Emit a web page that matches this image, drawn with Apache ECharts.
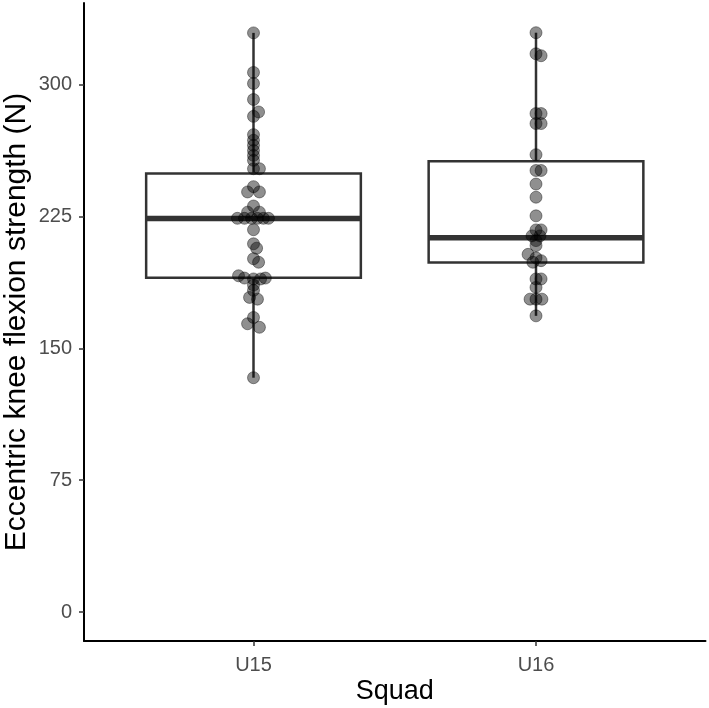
<!DOCTYPE html>
<html>
<head>
<meta charset="utf-8">
<script src="https://cdn.jsdelivr.net/npm/echarts@6/dist/echarts.min.js"></script>
<style>
  html, body { margin: 0; padding: 0; background: #fff; }
  #chart { width: 709px; height: 708px; }
</style>
</head>
<body>
<div id="chart"></div>
<script>
const squads = ['U15', 'U16']
const yTicks = [0, 75, 150, 225, 300]

// box stats per squad: [lower whisker, Q1, median, Q3, upper whisker]
const boxU15 = [133.3, 190.2, 223.9, 249.5, 329.5]
const boxU16 = [168.5, 198.8, 213.0, 256.4, 329.6]

// individual players (N) and the beeswarm offset (in category units)
const u15Values = [329.5, 307, 300.7, 291.6, 284.5, 282, 271.6, 268.4, 265.5, 262.6, 259.8, 257,
  252.2, 252.2, 242, 239, 239, 231, 227.5, 227.5, 224, 224, 224, 224, 224, 224, 217.5, 209.5,
  207, 201, 199, 191.3, 190, 189.5, 189.5, 190, 186, 183, 179, 178, 167.6, 164, 162, 133.3]
const u15Offsets = [0, 0, 0, 0, 0.018, 0, 0, 0, 0, 0, 0, 0,
  0, 0.021, 0, -0.021, 0.021, 0, -0.021, 0.021, -0.057, -0.032, -0.007, 0.014, 0.035, 0.053, 0, 0,
  0.011, 0, 0.018, -0.053, -0.032, 0, 0.025, 0.042, 0, 0, -0.014, 0.014, 0, -0.021, 0.021, 0]

const u16Values = [329.6, 317.6, 316.5, 283.6, 283.6, 277.9, 277.9, 260.2, 251.2, 251.2, 243.5, 236,
  225.4, 217.4, 217.4, 214, 214, 211.3, 208.5, 203.5, 201.5, 199.9, 199, 189.5, 189.5, 184.7,
  178, 178, 178, 168.5]
const u16Offsets = [0, 0, 0.018, 0, 0.018, 0, 0.018, 0, 0, 0.018, 0, 0,
  0, 0, 0.018, -0.014, 0.014, 0, 0, -0.028, 0, 0.018, -0.011, 0, 0.018, 0,
  -0.021, 0, 0.021, 0]

const boxes = [boxU15, boxU16].map((b, i) => [i + 1].concat(b))
const points = []
u15Values.forEach((v, i) => points.push([1 + u15Offsets[i], v]))
u16Values.forEach((v, i) => points.push([2 + u16Offsets[i], v]))

const ink = '#333333'
const tickText = '#4D4D4D'

let chart = echarts.init(document.getElementById('chart'), null, { renderer: 'canvas' })
chart.setOption({
    animation: false,
    backgroundColor: '#fff',
    grid: { left: 84, right: 3.5, top: 3, bottom: 67, containLabel: false, outerBoundsMode: 'none' },
    xAxis: {
        type: 'value',
        min: 0.4,
        max: 2.6,
        name: 'Squad',
        nameLocation: 'middle',
        nameGap: 37,
        nameMoveOverlap: false,
        nameTextStyle: { fontFamily: 'Liberation Sans', fontSize: 27, color: '#000' },
        axisLine: { show: true, onZero: false, lineStyle: { color: '#000', width: 2 } },
        axisTick: { show: true, customValues: [1, 2], length: 5, lineStyle: { color: ink, width: 1.5 } },
        axisLabel: {
            customValues: [1, 2],
            margin: 14,
            fontFamily: 'Liberation Sans', fontSize: 20, color: tickText,
            formatter: v => squads[Math.round(v) - 1]
        },
        splitLine: { show: false }
    },
    yAxis: {
        type: 'value',
        min: -16.5,
        max: 346.5,
        name: 'Eccentric knee flexion strength (N)',
        nameLocation: 'middle',
        nameGap: 52,
        nameRotate: 90,
        nameMoveOverlap: false,
        nameTextStyle: { fontFamily: 'Liberation Sans', fontSize: 30, color: '#000' },
        axisLine: { show: true, onZero: false, lineStyle: { color: '#000', width: 2 } },
        axisTick: { show: true, customValues: yTicks, length: 5, lineStyle: { color: ink, width: 1.5 } },
        axisLabel: {
            customValues: yTicks,
            margin: 12,
            fontFamily: 'Liberation Sans', fontSize: 20, color: tickText
        },
        splitLine: { show: false }
    },
    series: [
        {
            type: 'custom',
            name: 'box',
            data: boxes,
            z: 1,
            renderItem: function (params, api) {
                const x = api.value(0)
                const lo = api.coord([x, api.value(1)])
                const q1 = api.coord([x, api.value(2)])
                const med = api.coord([x, api.value(3)])
                const q3 = api.coord([x, api.value(4)])
                const hi = api.coord([x, api.value(5)])
                const w = api.size([0.76, 0])[0]
                const cx = lo[0]
                const line = { stroke: ink, lineWidth: 2.5 }
                return {
                    type: 'group',
                    children: [
                        { type: 'line', shape: { x1: cx, y1: hi[1], x2: cx, y2: q3[1] }, style: line },
                        { type: 'line', shape: { x1: cx, y1: q1[1], x2: cx, y2: lo[1] }, style: line },
                        { type: 'rect', shape: { x: cx - w / 2, y: q3[1], width: w, height: q1[1] - q3[1] },
                          style: { fill: '#fff', stroke: ink, lineWidth: 2.5 } },
                        { type: 'line', shape: { x1: cx - w / 2, y1: med[1], x2: cx + w / 2, y2: med[1] },
                          style: { stroke: ink, lineWidth: 5.5 } }
                    ]
                }
            }
        },
        {
            type: 'scatter',
            name: 'players',
            data: points,
            z: 2,
            symbol: 'circle',
            symbolSize: 12,
            itemStyle: {
                color: 'rgba(0,0,0,0.55)',
                borderColor: 'rgba(0,0,0,0.5)',
                borderWidth: 1
            }
        }
    ]
})
</script>
</body>
</html>
